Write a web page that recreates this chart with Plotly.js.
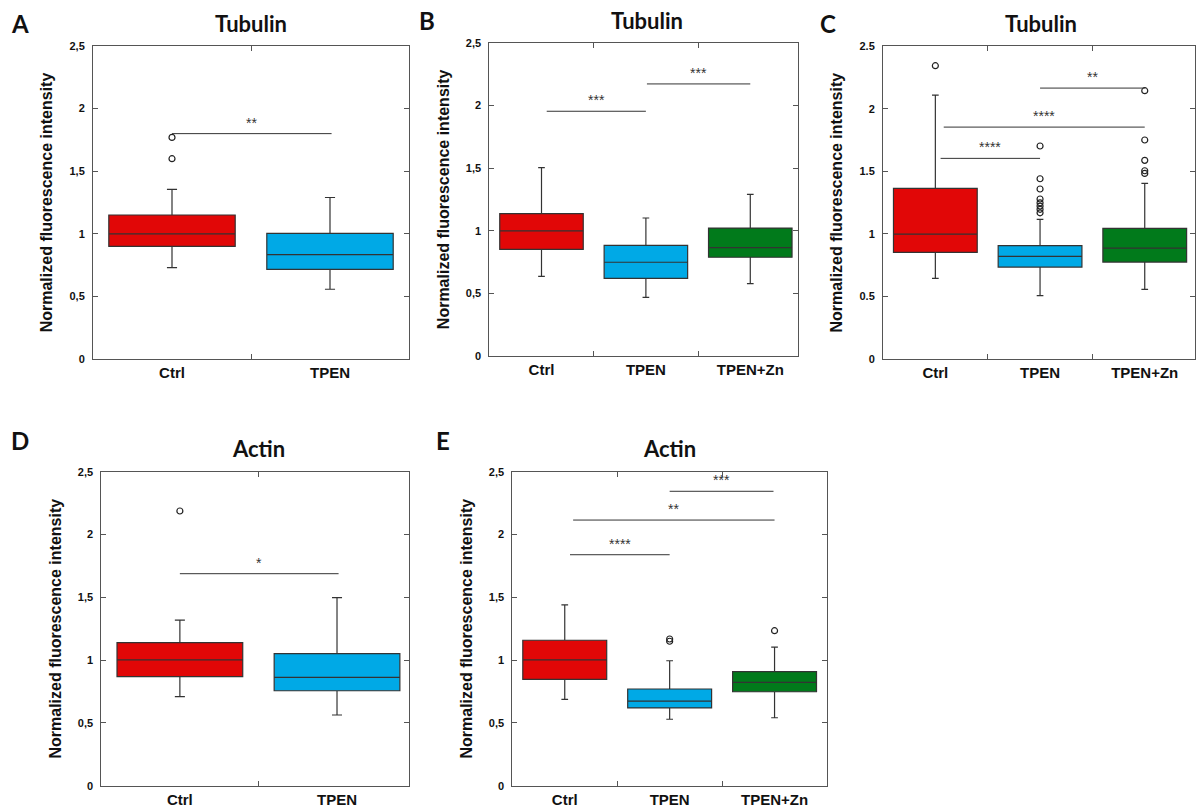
<!DOCTYPE html>
<html><head><meta charset="utf-8">
<script src="https://cdn.plot.ly/plotly-3.0.1.min.js"></script>
<style>html,body{margin:0;padding:0;background:#fff}#chart{width:1196px;height:807px}</style>
</head><body><div id="chart"></div>
<script>
// ---------- DATA ----------
const cats2 = ['Ctrl', 'TPEN'];
const cats3 = ['Ctrl', 'TPEN', 'TPEN+Zn'];
const yTickVals = [0, 0.5, 1, 1.5, 2, 2.5];
const yTickTextComma = ['0', '0,5', '1', '1,5', '2', '2,5'];
const yTickTextDot = ['0', '0.5', '1', '1.5', '2', '2.5'];
const yTitle = 'Normalized fluorescence intensity';
const panelLetters = ['A', 'B', 'C', 'D', 'E'];
const panelTitles = ['Tubulin', 'Tubulin', 'Tubulin', 'Actin', 'Actin'];

// Panel A (Tubulin, 2 groups)
const A_q1 = [0.90, 0.716];
const A_med = [1.00, 0.833];
const A_q3 = [1.15, 1.004];
const A_lo = [0.73, 0.557];
const A_hi = [1.355, 1.29];
const A_out = [[1.77, 1.60], []];
const A_sig = [[0, 1.01, 1.80, '**']];

// Panel B (Tubulin, 3 groups)
const B_q1 = [0.851, 0.620, 0.788];
const B_med = [0.998, 0.748, 0.864];
const B_q3 = [1.136, 0.883, 1.021];
const B_lo = [0.636, 0.468, 0.577];
const B_hi = [1.503, 1.101, 1.29];
const B_out = [[], [], []];
const B_sig = [[0.05, 1.0, 1.953, '***'], [1.01, 2.0, 2.171, '***']];

// Panel C (Tubulin, 3 groups)
const C_q1 = [0.853, 0.735, 0.775];
const C_med = [0.999, 0.821, 0.887];
const C_q3 = [1.364, 0.906, 1.045];
const C_lo = [0.645, 0.506, 0.557];
const C_hi = [2.110, 1.117, 1.404];
const C_out = [[2.345], [1.703, 1.441, 1.359, 1.279, 1.249, 1.223, 1.197, 1.169], [2.145, 1.751, 1.588, 1.505, 1.484]];
const C_sig = [[1.0, 2.0, 2.166, '**'], [0.08, 2.0, 1.854, '****'], [0.05, 1.0, 1.604, '****']];

// Panel D (Actin, 2 groups)
const D_q1 = [0.868, 0.756];
const D_med = [1.001, 0.863];
const D_q3 = [1.139, 1.051];
const D_lo = [0.709, 0.563];
const D_hi = [1.319, 1.497];
const D_out = [[2.187], []];
const D_sig = [[0, 1.01, 1.688, '*']];

// Panel E (Actin, 3 groups)
const E_q1 = [0.847, 0.619, 0.748];
const E_med = [1.001, 0.674, 0.823];
const E_q3 = [1.158, 0.770, 0.908];
const E_lo = [0.688, 0.529, 0.541];
const E_hi = [1.439, 0.995, 1.104];
const E_out = [[], [1.168, 1.150], [1.234]];
const E_sig = [[0.05, 1.0, 1.839, '****'], [0.08, 2.0, 2.115, '**'], [1.0, 1.99, 2.344, '***']];

// ---------- STYLE / LAYOUT ----------
const W = 1196, H = 807;
const boxColors = ['#e10707', '#00a9e6', '#017a1b'];
const lineCol = '#333333';
const axisCol = '#555555';
const arial = 'Liberation Sans, Arial, sans-serif';
const calibri = 'Lato, Open Sans, sans-serif';

// pixel frames of each plot area: [left, right, top, bottom], x range
const frames = [
  {px: [93, 409, 46, 359], xr: [-0.5, 1.5], cats: cats2, tt: yTickTextComma, ttl: [251, 23], let: [20, 24], st: 12},
  {px: [489.3, 798.3, 42.7, 356], xr: [-0.5, 2.46], cats: cats3, tt: yTickTextComma, ttl: [647, 20], let: [427, 20], st: 12},
  {px: [883, 1195, 46.3, 359], xr: [-0.5, 2.48], cats: cats3, tt: yTickTextDot, ttl: [1041, 24], let: [828, 24], st: 12},
  {px: [101.3, 409.3, 471.7, 785.7], xr: [-0.5, 1.46], cats: cats2, tt: yTickTextComma, ttl: [258, 448], let: [20, 440], st: 12},
  {px: [512.3, 827, 471.7, 785.7], xr: [-0.5, 2.5], cats: cats3, tt: yTickTextComma, ttl: [669, 448], let: [443, 440], st: 12}
];
const panels = [
  [A_q1, A_med, A_q3, A_lo, A_hi, A_out, A_sig],
  [B_q1, B_med, B_q3, B_lo, B_hi, B_out, B_sig],
  [C_q1, C_med, C_q3, C_lo, C_hi, C_out, C_sig],
  [D_q1, D_med, D_q3, D_lo, D_hi, D_out, D_sig],
  [E_q1, E_med, E_q3, E_lo, E_hi, E_out, E_sig]
];

const traces = [];
const layout = {
  width: W, height: H, margin: {l: 0, r: 0, t: 0, b: 0},
  paper_bgcolor: '#fff', plot_bgcolor: '#fff', showlegend: false,
  boxmode: 'overlay', shapes: [], annotations: []
};

panels.forEach((p, i) => {
  const [q1, med, q3, lo, hi, out, sig] = p;
  const f = frames[i];
  const n = i + 1;
  const xa = n === 1 ? 'x' : 'x' + n;
  const ya = n === 1 ? 'y' : 'y' + n;
  f.cats.forEach((c, k) => {
    traces.push({
      type: 'box', xaxis: xa, yaxis: ya,
      x: [c], q1: [q1[k]], median: [med[k]], q3: [q3[k]],
      lowerfence: [lo[k]], upperfence: [hi[k]],
      width: 0.8, whiskerwidth: 0.08, boxpoints: false,
      fillcolor: boxColors[k], line: {color: lineCol, width: 1.2}, hoverinfo: 'skip'
    });
    if (out[k].length) {
      traces.push({
        type: 'scatter', mode: 'markers', xaxis: xa, yaxis: ya,
        x: out[k].map(() => c), y: out[k],
        marker: {symbol: 'circle-open', size: 6, color: '#222', line: {width: 1.2, color: '#222'}},
        hoverinfo: 'skip'
      });
    }
  });
  const [l, r, t, b] = f.px;
  layout['xaxis' + (n === 1 ? '' : n)] = {
    domain: [l / W, r / W], anchor: ya, type: 'category', categoryorder: 'array', categoryarray: f.cats,
    range: f.xr, tickson: 'boundaries', ticks: 'inside', ticklen: 5, tickcolor: axisCol,
    showline: true, mirror: 'ticks', linecolor: axisCol, linewidth: 1,
    showgrid: false, zeroline: false, fixedrange: true,
    tickfont: {family: arial, size: 15, color: '#111', weight: 'bold'}
  };
  layout['yaxis' + (n === 1 ? '' : n)] = {
    domain: [1 - b / H, 1 - t / H], anchor: xa, range: [0, 2.5],
    tickmode: 'array', tickvals: yTickVals, ticktext: f.tt,
    ticks: 'inside', ticklen: 5, tickcolor: axisCol, ticklabelstandoff: 5,
    showline: true, mirror: 'ticks', linecolor: axisCol, linewidth: 1,
    showgrid: false, zeroline: false, fixedrange: true,
    tickfont: {family: arial, size: 11, color: '#111', weight: 'bold'},
    title: {text: yTitle, standoff: f.st, font: {family: arial, size: 16, color: '#111', weight: 'bold'}}
  };
  sig.forEach(s => {
    layout.shapes.push({type: 'line', xref: xa, yref: ya, x0: s[0], x1: s[1], y0: s[2], y1: s[2],
      line: {color: lineCol, width: 1}});
    layout.annotations.push({xref: xa, yref: ya, x: (s[0] + s[1]) / 2, y: s[2], text: s[3],
      showarrow: false, yanchor: 'bottom', yshift: 1, font: {family: arial, size: 14, color: '#333'}});
  });
  layout.annotations.push({xref: 'paper', yref: 'paper', x: f.ttl[0] / W, y: 1 - f.ttl[1] / H,
    text: panelTitles[i], showarrow: false, xanchor: 'center', yanchor: 'middle',
    font: {family: calibri, size: 22, color: '#111', weight: 'bold'}});
  layout.annotations.push({xref: 'paper', yref: 'paper', x: f.let[0] / W, y: 1 - f.let[1] / H,
    text: panelLetters[i], showarrow: false, xanchor: 'center', yanchor: 'middle',
    font: {family: calibri, size: 24, color: '#111', weight: 'bold'}});
});

Plotly.newPlot('chart', traces, layout, {staticPlot: true, displayModeBar: false});
</script>
</body></html>
